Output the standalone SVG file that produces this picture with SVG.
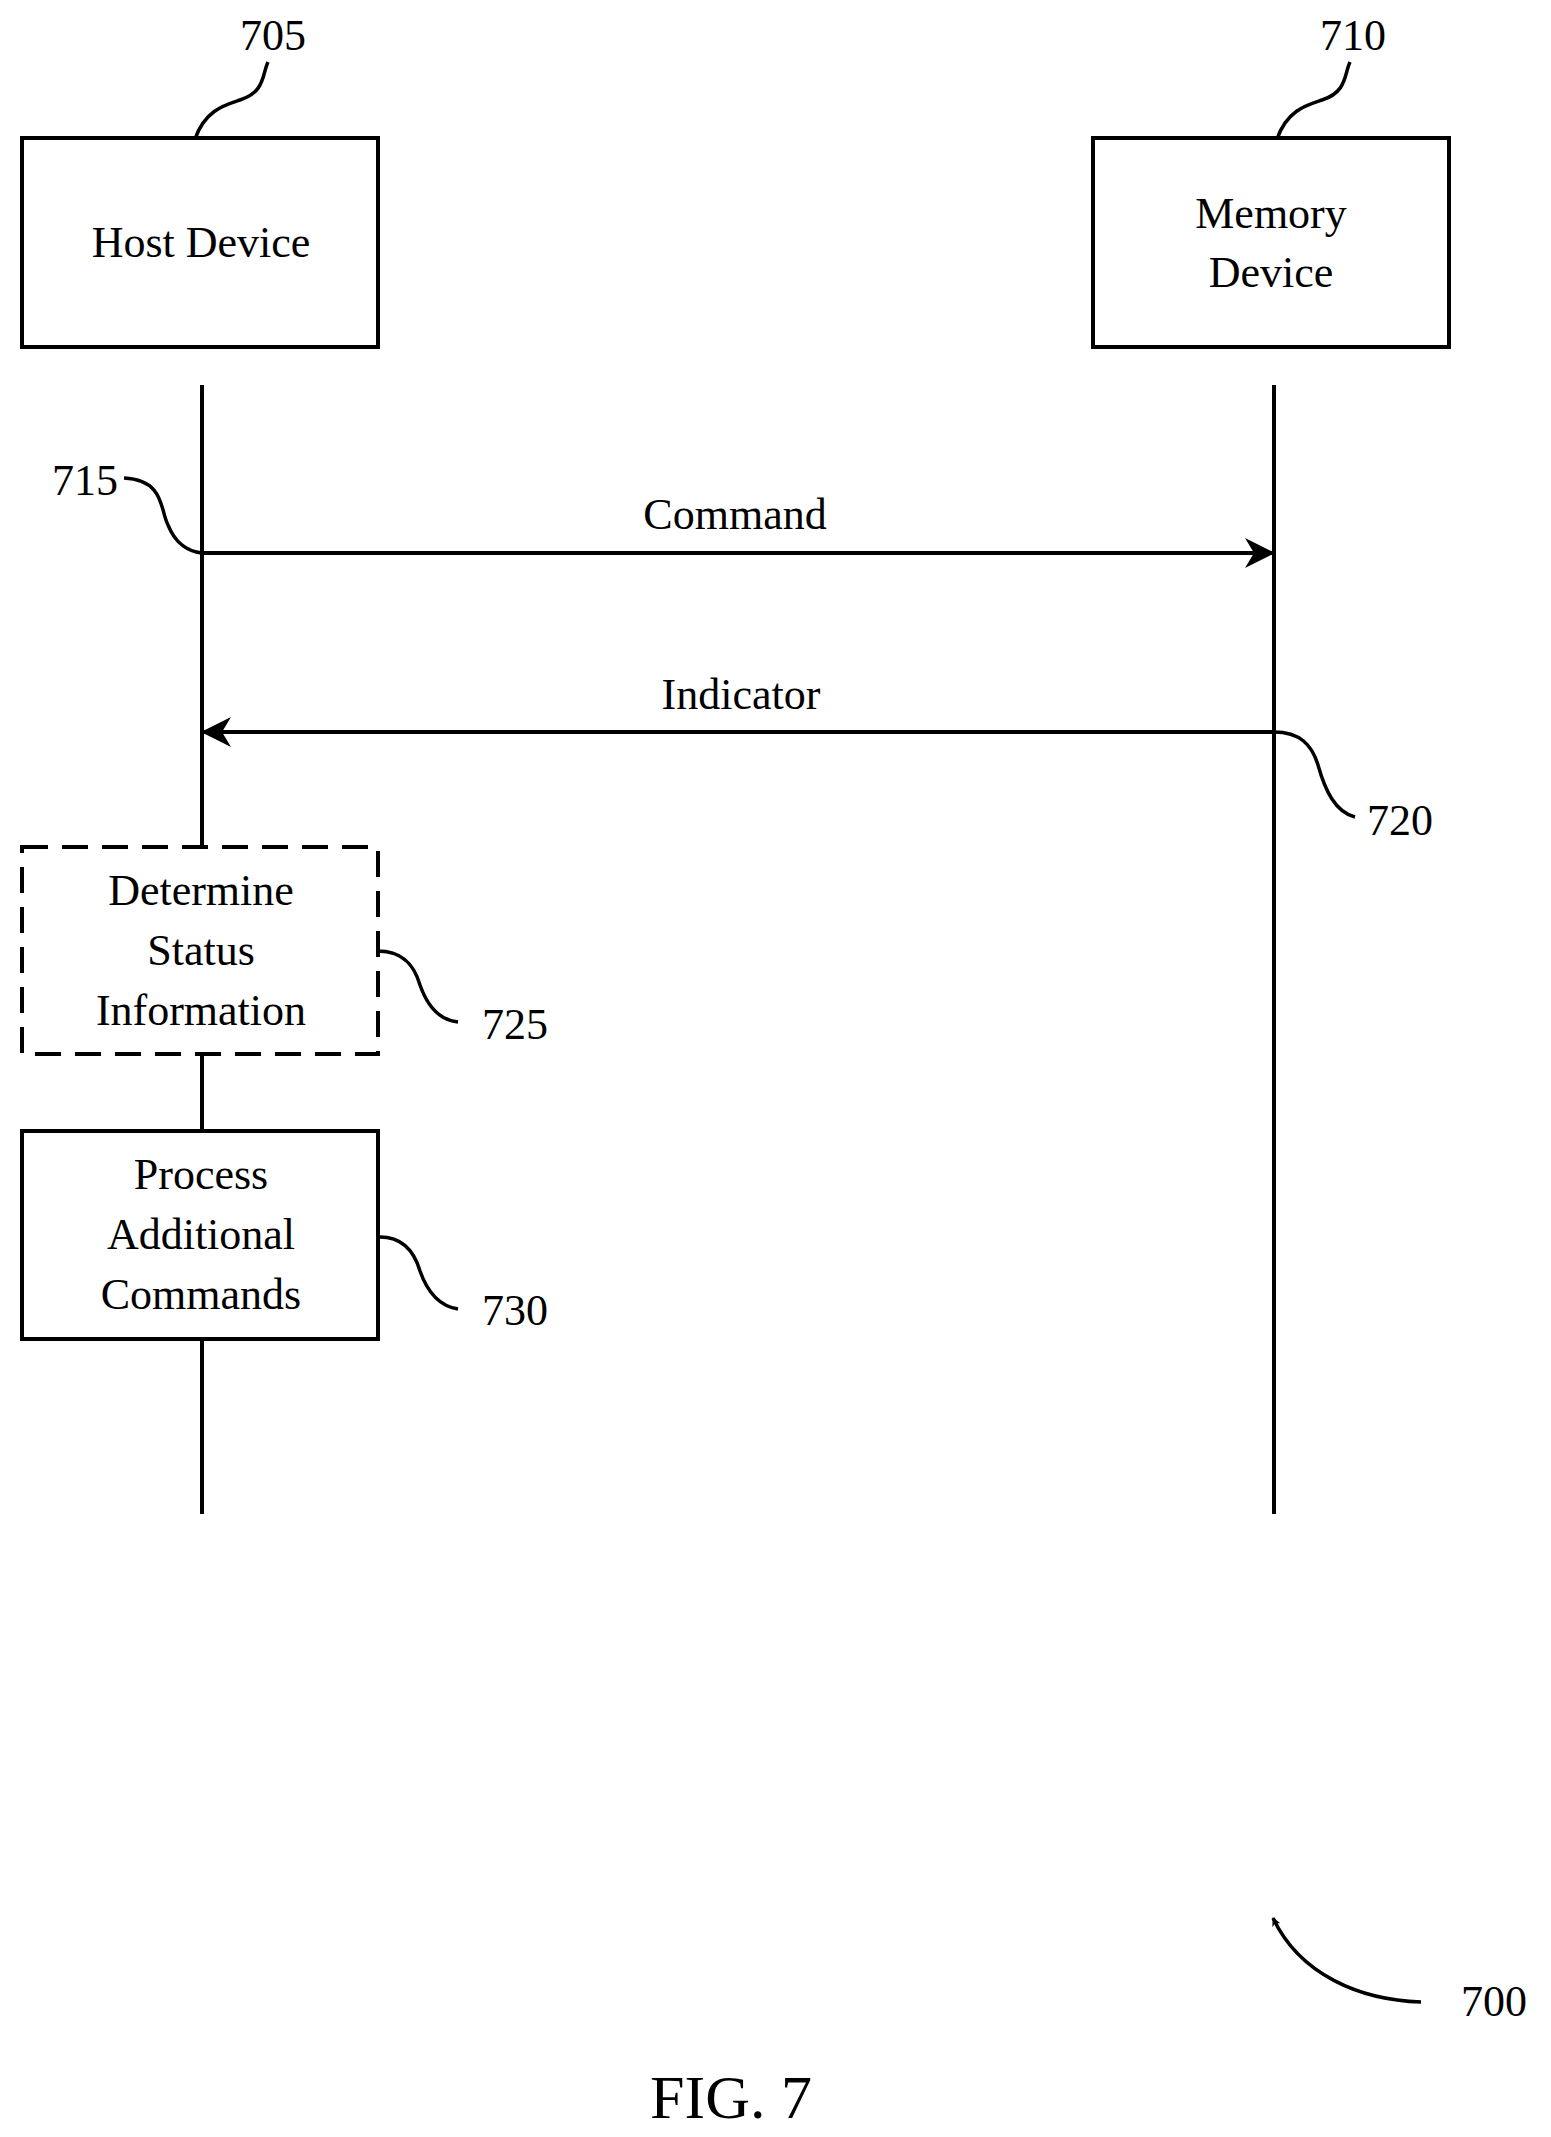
<svg xmlns="http://www.w3.org/2000/svg" width="1551" height="2137" viewBox="0 0 1551 2137">
<style>
text{font-family:"Liberation Serif","Times New Roman",serif;font-size:44px;fill:#000;text-anchor:middle}
.b{fill:none;stroke:#000;stroke-width:4}
.l{fill:none;stroke:#000;stroke-width:3.5}
</style>
<defs><marker id="a" viewBox="0 0 10 10" refX="9" refY="5" markerWidth="9" markerHeight="9" markerUnits="userSpaceOnUse" orient="auto"><path d="M0,0 L10,5 L0,10 L3,5 z"/></marker>
<marker id="m" viewBox="0 0 10 10" refX="9" refY="5" markerWidth="34" markerHeight="30" markerUnits="userSpaceOnUse" orient="auto"><path d="M0,0 L10,5 L0,10 L3,5 z"/></marker></defs>
<rect width="1551" height="2137" fill="#fff"/>
<g id="connectors">
<line class="b" x1="202" y1="385" x2="202" y2="847"/>
<line class="b" x1="202" y1="1054" x2="202" y2="1131"/>
<line class="b" x1="202" y1="1339" x2="202" y2="1514"/>
<line class="b" x1="1274" y1="385" x2="1274" y2="1514"/>
<line class="b" x1="202" y1="553" x2="1272" y2="553" marker-end="url(#m)"/>
<line class="b" x1="1274" y1="732" x2="204" y2="732" marker-end="url(#m)"/>
<text x="735" y="529">Command</text>
<text x="741" y="709">Indicator</text>
</g>
<g id="host"><rect class="b" x="22" y="138" width="356" height="209"/><text x="201" y="257">Host Device</text></g>
<g id="memory"><rect class="b" x="1093" y="138" width="356" height="209"/><text x="1271" y="228">Memory</text><text x="1271" y="287">Device</text></g>
<g id="determine"><rect class="b" x="22" y="847" width="356" height="207" stroke-dasharray="26,14"/><text x="201" y="905">Determine</text><text x="201" y="965">Status</text><text x="201" y="1025">Information</text></g>
<g id="process"><rect class="b" x="22" y="1131" width="356" height="208"/><text x="201" y="1189">Process</text><text x="201" y="1249">Additional</text><text x="201" y="1309">Commands</text></g>
<g id="labels">
<text x="273" y="50">705</text>
<path class="l" d="M195,139 C205,110 225,105 240,100 C265,92 262,75 268,62"/>
<text x="1353" y="50">710</text>
<path class="l" d="M1277,139 C1287,110 1307,105 1322,100 C1347,92 1344,75 1350,62"/>
<text x="85" y="495">715</text>
<path class="l" d="M124,478 C165,480 160,510 168,525 C176,545 190,552 202,553"/>
<text x="1400" y="835">720</text>
<path class="l" d="M1274,732 C1300,732 1312,745 1318,765 C1325,790 1335,812 1355,817"/>
<text x="515" y="1039">725</text>
<path class="l" d="M378,951 C405,951 415,968 420,985 C427,1005 438,1020 458,1022"/>
<text x="515" y="1325">730</text>
<path class="l" d="M380,1237 C405,1237 415,1254 420,1271 C427,1291 438,1306 458,1309"/>
<text x="1494" y="2016">700</text>
<path class="l" d="M1421,2002 C1360,2000 1300,1975 1273,1918" marker-end="url(#a)"/>
<text x="731" y="2118" style="font-size:62px">FIG. 7</text>
</g>
</svg>
